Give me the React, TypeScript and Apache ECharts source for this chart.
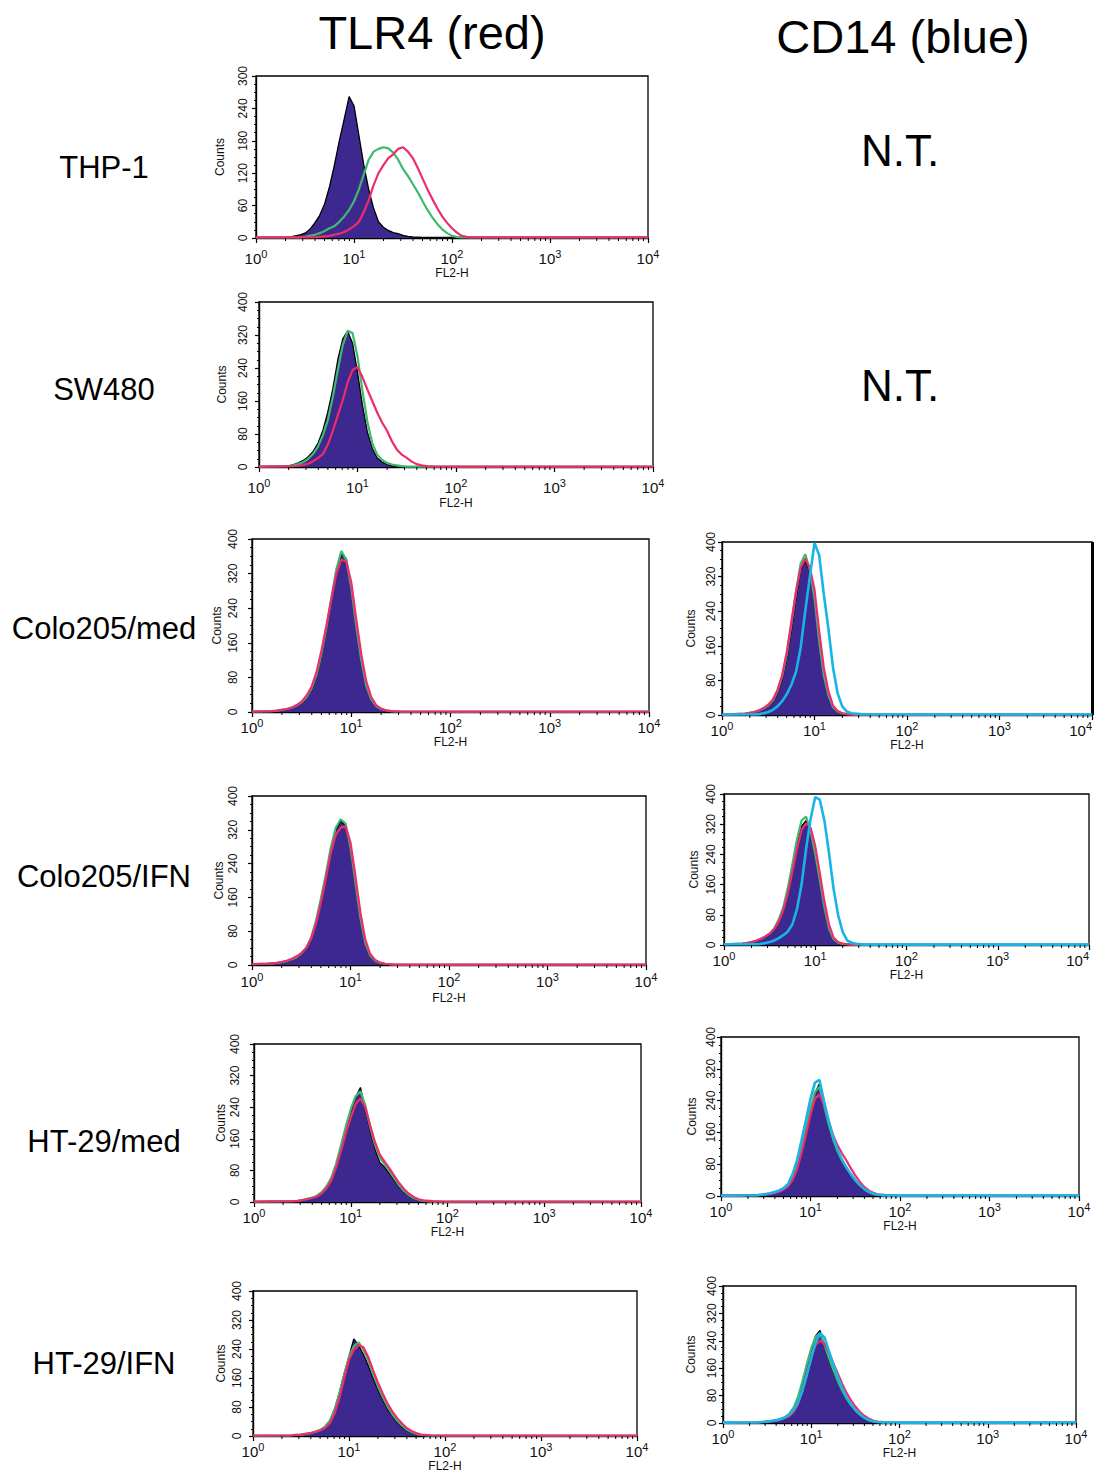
import React, { useEffect, useRef } from "react";
import * as echarts from "echarts";

// ---------- text ----------
const COLUMN_TITLES = ["TLR4 (red)", "CD14 (blue)"];
const ROW_LABELS = ["THP-1", "SW480", "Colo205/med", "Colo205/IFN", "HT-29/med", "HT-29/IFN"];
const NOT_TESTED = "N.T.";
const X_NAME = "FL2-H";
const Y_NAME = "Counts";

// ---------- axes ----------
const X_MIN = 1;
const X_MAX = 10000;
const X_MINOR_TICKS = [
  2, 3, 4, 5, 6, 7, 8, 9,
  20, 30, 40, 50, 60, 70, 80, 90,
  200, 300, 400, 500, 600, 700, 800, 900,
  2000, 3000, 4000, 5000, 6000, 7000, 8000, 9000,
];
const Y_MAX_THP1 = 300;
const Y_STEP_THP1 = 60;
const Y_MAX_OTHER = 400;
const Y_STEP_OTHER = 80;

// ---------- histogram data: [log10(FL2-H), counts] ----------
// THP-1 / TLR4
const THP1_ISO: number[][] = [[0,1],[0.3,1],[0.35,2],[0.4,4],[0.45,6],[0.5,9],[0.55,16],[0.6,28],[0.65,42],[0.7,63],[0.75,95],[0.8,135],[0.85,180],[0.9,220],[0.95,262],[1.0,245],[1.05,190],[1.1,135],[1.15,90],[1.2,55],[1.25,30],[1.3,20],[1.35,14],[1.4,10],[1.45,8],[1.5,5],[1.55,3],[1.6,2],[1.7,1],[4,1]];
const THP1_GREEN: number[][] = [[0,1],[0.45,1],[0.5,2],[0.55,4],[0.6,6],[0.65,9],[0.7,13],[0.75,18],[0.8,22],[0.85,30],[0.9,40],[0.95,52],[1.0,68],[1.05,90],[1.1,118],[1.15,145],[1.2,160],[1.25,165],[1.3,168],[1.35,166],[1.4,158],[1.45,145],[1.5,128],[1.55,115],[1.6,100],[1.65,85],[1.7,68],[1.75,52],[1.8,38],[1.85,26],[1.9,16],[1.95,9],[2.0,4],[2.05,2],[2.1,1],[4,1]];
const THP1_RED: number[][] = [[0,1],[0.6,1],[0.7,3],[0.75,4],[0.8,6],[0.85,8],[0.9,11],[0.95,16],[1.0,22],[1.05,30],[1.1,48],[1.15,70],[1.2,98],[1.25,120],[1.3,135],[1.35,148],[1.4,155],[1.45,165],[1.5,168],[1.55,160],[1.6,148],[1.65,130],[1.7,110],[1.75,90],[1.8,72],[1.85,55],[1.9,40],[1.95,28],[2.0,18],[2.05,10],[2.1,4],[2.15,2],[2.2,1],[4,1]];

// SW480 / TLR4
const SW480_ISO: number[][] = [[0,1],[0.25,2],[0.3,3],[0.35,6],[0.4,10],[0.45,16],[0.5,25],[0.55,38],[0.6,58],[0.65,90],[0.7,135],[0.75,190],[0.8,260],[0.85,310],[0.9,330],[0.95,300],[1.0,230],[1.05,150],[1.1,85],[1.15,45],[1.2,22],[1.25,12],[1.3,6],[1.35,3],[1.4,2],[1.5,1],[4,1]];
const SW480_GREEN: number[][] = [[0,1],[0.3,2],[0.35,4],[0.4,7],[0.45,12],[0.5,20],[0.55,32],[0.6,50],[0.65,78],[0.7,115],[0.75,170],[0.8,235],[0.85,295],[0.9,330],[0.95,325],[1.0,268],[1.05,185],[1.1,110],[1.15,58],[1.2,30],[1.25,17],[1.3,10],[1.35,6],[1.4,4],[1.45,2],[1.5,1],[4,1]];
const SW480_RED: number[][] = [[0,1],[0.35,2],[0.4,3],[0.45,5],[0.5,8],[0.55,14],[0.6,22],[0.65,32],[0.7,55],[0.75,88],[0.8,125],[0.85,162],[0.9,205],[0.95,235],[1.0,242],[1.05,218],[1.1,188],[1.15,160],[1.2,132],[1.25,108],[1.3,88],[1.35,62],[1.4,42],[1.45,30],[1.5,22],[1.55,13],[1.6,7],[1.65,4],[1.7,2],[1.8,1],[4,1]];

// Colo205/med / TLR4
const COLO_MED_T_ISO: number[][] = [[0,1],[0.2,2],[0.25,3],[0.3,4],[0.35,6],[0.4,9],[0.45,14],[0.5,20],[0.55,32],[0.6,50],[0.65,80],[0.7,130],[0.75,190],[0.8,260],[0.85,325],[0.9,365],[0.95,355],[1.0,290],[1.05,200],[1.1,125],[1.15,65],[1.2,30],[1.25,14],[1.3,7],[1.35,4],[1.4,2],[1.5,1],[4,1]];
const COLO_MED_T_GREEN: number[][] = [[0,1],[0.2,2],[0.25,3],[0.3,5],[0.35,7],[0.4,10],[0.45,15],[0.5,22],[0.55,34],[0.6,54],[0.65,85],[0.7,135],[0.75,195],[0.8,265],[0.85,330],[0.9,372],[0.95,352],[1.0,288],[1.05,200],[1.1,122],[1.15,62],[1.2,30],[1.25,14],[1.3,7],[1.35,4],[1.4,2],[1.5,1],[4,1]];
const COLO_MED_T_RED: number[][] = [[0,1],[0.2,2],[0.25,3],[0.3,5],[0.35,7],[0.4,10],[0.45,16],[0.5,24],[0.55,38],[0.6,58],[0.65,92],[0.7,142],[0.75,200],[0.8,262],[0.85,320],[0.9,352],[0.95,348],[1.0,300],[1.05,215],[1.1,135],[1.15,72],[1.2,35],[1.25,16],[1.3,8],[1.35,4],[1.4,2],[1.5,1],[4,1]];

// Colo205/med / CD14
const COLO_MED_C_ISO: number[][] = [[0,1],[0.25,3],[0.3,4],[0.35,6],[0.4,9],[0.45,14],[0.5,20],[0.55,30],[0.6,50],[0.65,80],[0.7,130],[0.75,195],[0.8,270],[0.85,335],[0.9,358],[0.95,330],[1.0,275],[1.05,175],[1.1,95],[1.15,48],[1.2,18],[1.25,8],[1.3,4],[1.35,2],[1.45,1],[4,1]];
const COLO_MED_C_GREEN: number[][] = [[0,1],[0.25,3],[0.3,5],[0.35,7],[0.4,10],[0.45,15],[0.5,22],[0.55,33],[0.6,55],[0.65,88],[0.7,140],[0.75,210],[0.8,285],[0.85,350],[0.9,372],[0.95,335],[1.0,270],[1.05,172],[1.1,92],[1.15,46],[1.2,18],[1.25,8],[1.3,4],[1.35,2],[1.45,1],[4,1]];
const COLO_MED_C_RED: number[][] = [[0,1],[0.25,3],[0.3,5],[0.35,7],[0.4,11],[0.45,16],[0.5,24],[0.55,36],[0.6,58],[0.65,92],[0.7,145],[0.75,215],[0.8,285],[0.85,340],[0.9,362],[0.95,340],[1.0,290],[1.05,195],[1.1,110],[1.15,55],[1.2,22],[1.25,9],[1.3,4],[1.35,2],[1.45,1],[4,1]];
const COLO_MED_C_BLUE: number[][] = [[0,1],[0.35,1],[0.4,2],[0.45,4],[0.5,7],[0.55,12],[0.6,20],[0.65,32],[0.7,48],[0.75,70],[0.8,100],[0.85,155],[0.9,240],[0.95,320],[1.0,398],[1.05,370],[1.1,280],[1.15,200],[1.2,110],[1.25,50],[1.3,20],[1.35,8],[1.4,4],[1.5,2],[1.6,1],[4,1]];

// Colo205/IFN / TLR4
const COLO_IFN_T_ISO: number[][] = [[0,2],[0.1,3],[0.15,3],[0.2,4],[0.25,5],[0.3,7],[0.35,9],[0.4,12],[0.45,17],[0.5,25],[0.55,38],[0.6,62],[0.65,100],[0.7,150],[0.75,205],[0.8,270],[0.85,318],[0.9,340],[0.95,330],[1.0,275],[1.05,190],[1.1,110],[1.15,50],[1.2,20],[1.25,9],[1.3,4],[1.35,2],[1.45,1],[4,1]];
const COLO_IFN_T_GREEN: number[][] = [[0,2],[0.1,3],[0.15,3],[0.2,4],[0.25,5],[0.3,7],[0.35,9],[0.4,13],[0.45,18],[0.5,27],[0.55,40],[0.6,65],[0.65,105],[0.7,158],[0.75,215],[0.8,278],[0.85,325],[0.9,345],[0.95,335],[1.0,278],[1.05,195],[1.1,112],[1.15,52],[1.2,22],[1.25,10],[1.3,5],[1.35,3],[1.45,1],[4,1]];
const COLO_IFN_T_RED: number[][] = [[0,2],[0.1,3],[0.15,3],[0.2,4],[0.25,5],[0.3,7],[0.35,10],[0.4,14],[0.45,20],[0.5,28],[0.55,40],[0.6,62],[0.65,98],[0.7,148],[0.75,205],[0.8,265],[0.85,308],[0.9,325],[0.95,328],[1.0,290],[1.05,210],[1.1,125],[1.15,60],[1.2,26],[1.25,12],[1.3,6],[1.35,3],[1.45,1],[4,1]];

// Colo205/IFN / CD14
const COLO_IFN_C_ISO: number[][] = [[0,2],[0.2,4],[0.25,5],[0.3,7],[0.35,10],[0.4,15],[0.45,20],[0.5,28],[0.55,40],[0.6,62],[0.65,90],[0.7,140],[0.75,200],[0.8,265],[0.85,315],[0.9,330],[0.95,295],[1.0,235],[1.05,170],[1.1,100],[1.15,45],[1.2,15],[1.25,6],[1.3,3],[1.4,1],[4,1]];
const COLO_IFN_C_GREEN: number[][] = [[0,2],[0.2,4],[0.25,5],[0.3,8],[0.35,11],[0.4,16],[0.45,22],[0.5,30],[0.55,44],[0.6,68],[0.65,100],[0.7,152],[0.75,215],[0.8,280],[0.85,330],[0.9,340],[0.95,300],[1.0,240],[1.05,172],[1.1,100],[1.15,45],[1.2,16],[1.25,6],[1.3,3],[1.4,1],[4,1]];
const COLO_IFN_C_RED: number[][] = [[0,2],[0.2,4],[0.25,5],[0.3,8],[0.35,11],[0.4,16],[0.45,22],[0.5,30],[0.55,42],[0.6,62],[0.65,92],[0.7,138],[0.75,195],[0.8,255],[0.85,305],[0.9,322],[0.95,310],[1.0,262],[1.05,190],[1.1,115],[1.15,55],[1.2,20],[1.25,8],[1.3,4],[1.4,1],[4,1]];
const COLO_IFN_C_BLUE: number[][] = [[0,2],[0.35,2],[0.4,3],[0.45,5],[0.5,8],[0.55,12],[0.6,18],[0.65,26],[0.7,36],[0.75,55],[0.8,95],[0.85,160],[0.9,255],[0.95,335],[1.0,392],[1.05,385],[1.1,330],[1.15,245],[1.2,150],[1.25,80],[1.3,35],[1.35,12],[1.4,6],[1.45,3],[1.55,1],[4,1]];

// HT-29/med / TLR4
const HT_MED_T_ISO: number[][] = [[0,1],[0.4,2],[0.45,3],[0.5,5],[0.55,7],[0.6,10],[0.65,14],[0.7,22],[0.75,35],[0.8,55],[0.85,90],[0.9,135],[0.95,180],[1.0,225],[1.05,265],[1.1,290],[1.15,235],[1.2,180],[1.25,135],[1.3,100],[1.35,88],[1.4,72],[1.45,55],[1.5,38],[1.55,25],[1.6,15],[1.65,9],[1.7,5],[1.75,3],[1.85,1],[4,1]];
const HT_MED_T_GREEN: number[][] = [[0,1],[0.4,2],[0.45,3],[0.5,5],[0.55,8],[0.6,11],[0.65,16],[0.7,25],[0.75,40],[0.8,62],[0.85,98],[0.9,145],[0.95,192],[1.0,235],[1.05,268],[1.1,280],[1.15,245],[1.2,190],[1.25,145],[1.3,112],[1.35,95],[1.4,78],[1.45,60],[1.5,42],[1.55,28],[1.6,17],[1.65,10],[1.7,6],[1.75,3],[1.85,1],[4,1]];
const HT_MED_T_RED: number[][] = [[0,1],[0.4,2],[0.45,3],[0.5,5],[0.55,7],[0.6,10],[0.65,14],[0.7,22],[0.75,35],[0.8,55],[0.85,88],[0.9,130],[0.95,175],[1.0,215],[1.05,248],[1.1,262],[1.15,240],[1.2,195],[1.25,152],[1.3,120],[1.35,102],[1.4,85],[1.45,66],[1.5,48],[1.55,33],[1.6,21],[1.65,13],[1.7,7],[1.75,4],[1.85,2],[1.95,1],[4,1]];

// HT-29/med / CD14
const HT_MED_C_ISO: number[][] = [[0,1],[0.4,2],[0.45,3],[0.5,4],[0.55,6],[0.6,8],[0.65,12],[0.7,17],[0.75,26],[0.8,45],[0.85,75],[0.9,118],[0.95,165],[1.0,215],[1.05,260],[1.1,282],[1.15,225],[1.2,178],[1.25,140],[1.3,110],[1.35,88],[1.4,70],[1.45,53],[1.5,38],[1.55,26],[1.6,16],[1.65,10],[1.7,5],[1.75,3],[1.85,1],[4,1]];
const HT_MED_C_GREEN: number[][] = [[0,1],[0.4,2],[0.45,3],[0.5,4],[0.55,6],[0.6,9],[0.65,13],[0.7,18],[0.75,28],[0.8,47],[0.85,78],[0.9,122],[0.95,170],[1.0,220],[1.05,262],[1.1,275],[1.15,228],[1.2,182],[1.25,144],[1.3,113],[1.35,90],[1.4,72],[1.45,55],[1.5,40],[1.55,27],[1.6,17],[1.65,10],[1.7,5],[1.75,3],[1.85,1],[4,1]];
const HT_MED_C_RED: number[][] = [[0,1],[0.4,2],[0.45,3],[0.5,4],[0.55,6],[0.6,8],[0.65,11],[0.7,16],[0.75,24],[0.8,40],[0.85,68],[0.9,108],[0.95,155],[1.0,205],[1.05,245],[1.1,255],[1.15,230],[1.2,190],[1.25,155],[1.3,128],[1.35,108],[1.4,90],[1.45,70],[1.5,52],[1.55,36],[1.6,23],[1.65,14],[1.7,8],[1.75,4],[1.85,2],[1.95,1],[4,1]];
const HT_MED_C_BLUE: number[][] = [[0,1],[0.4,2],[0.45,3],[0.5,5],[0.55,7],[0.6,10],[0.65,14],[0.7,20],[0.75,30],[0.8,55],[0.85,90],[0.9,140],[0.95,192],[1.0,245],[1.05,285],[1.1,292],[1.15,240],[1.2,192],[1.25,150],[1.3,118],[1.35,92],[1.4,72],[1.45,55],[1.5,40],[1.55,28],[1.6,18],[1.65,11],[1.7,6],[1.75,3],[1.85,1],[4,1]];

// HT-29/IFN / TLR4
const HT_IFN_T_ISO: number[][] = [[0,1],[0.4,2],[0.45,3],[0.5,4],[0.55,6],[0.6,8],[0.65,11],[0.7,16],[0.75,25],[0.8,42],[0.85,75],[0.9,120],[0.95,172],[1.0,220],[1.05,268],[1.1,250],[1.15,225],[1.2,195],[1.25,160],[1.3,128],[1.35,100],[1.4,75],[1.45,55],[1.5,38],[1.55,25],[1.6,15],[1.65,9],[1.7,5],[1.75,3],[1.85,1],[4,1]];
const HT_IFN_T_GREEN: number[][] = [[0,1],[0.4,2],[0.45,3],[0.5,4],[0.55,6],[0.6,8],[0.65,12],[0.7,17],[0.75,26],[0.8,42],[0.85,72],[0.9,118],[0.95,170],[1.0,218],[1.05,248],[1.1,258],[1.15,238],[1.2,208],[1.25,172],[1.3,138],[1.35,108],[1.4,82],[1.45,60],[1.5,43],[1.55,29],[1.6,18],[1.65,11],[1.7,6],[1.75,3],[1.85,1],[4,1]];
const HT_IFN_T_RED: number[][] = [[0,1],[0.4,2],[0.45,3],[0.5,4],[0.55,6],[0.6,8],[0.65,11],[0.7,15],[0.75,22],[0.8,35],[0.85,62],[0.9,105],[0.95,160],[1.0,210],[1.05,238],[1.1,250],[1.15,245],[1.2,218],[1.25,182],[1.3,148],[1.35,118],[1.4,90],[1.45,68],[1.5,50],[1.55,35],[1.6,22],[1.65,14],[1.7,8],[1.75,4],[1.85,2],[1.95,1],[4,1]];

// HT-29/IFN / CD14
const HT_IFN_C_ISO: number[][] = [[0,1],[0.4,2],[0.45,3],[0.5,4],[0.55,6],[0.6,8],[0.65,11],[0.7,16],[0.75,25],[0.8,42],[0.85,72],[0.9,118],[0.95,168],[1.0,215],[1.05,255],[1.1,270],[1.15,225],[1.2,185],[1.25,150],[1.3,118],[1.35,92],[1.4,70],[1.45,52],[1.5,37],[1.55,25],[1.6,15],[1.65,9],[1.7,5],[1.75,3],[1.85,1],[4,1]];
const HT_IFN_C_GREEN: number[][] = [[0,1],[0.4,2],[0.45,3],[0.5,4],[0.55,6],[0.6,8],[0.65,12],[0.7,17],[0.75,27],[0.8,45],[0.85,76],[0.9,122],[0.95,172],[1.0,218],[1.05,252],[1.1,262],[1.15,228],[1.2,190],[1.25,155],[1.3,122],[1.35,95],[1.4,72],[1.45,53],[1.5,38],[1.55,26],[1.6,16],[1.65,9],[1.7,5],[1.75,3],[1.85,1],[4,1]];
const HT_IFN_C_RED: number[][] = [[0,1],[0.4,2],[0.45,3],[0.5,4],[0.55,5],[0.6,7],[0.65,10],[0.7,14],[0.75,20],[0.8,32],[0.85,55],[0.9,95],[0.95,145],[1.0,195],[1.05,228],[1.1,240],[1.15,232],[1.2,205],[1.25,175],[1.3,145],[1.35,115],[1.4,88],[1.45,66],[1.5,48],[1.55,33],[1.6,21],[1.65,13],[1.7,7],[1.75,4],[1.85,2],[1.95,1],[4,1]];
const HT_IFN_C_BLUE: number[][] = [[0,1],[0.4,2],[0.45,3],[0.5,4],[0.55,6],[0.6,8],[0.65,11],[0.7,16],[0.75,24],[0.8,38],[0.85,60],[0.9,95],[0.95,140],[1.0,190],[1.05,235],[1.1,262],[1.15,250],[1.2,210],[1.25,172],[1.3,135],[1.35,102],[1.4,75],[1.45,54],[1.5,38],[1.55,25],[1.6,16],[1.65,9],[1.7,5],[1.75,3],[1.85,1],[4,1]];

// ---------- panel composition ----------
type Curves = { iso: number[][]; green: number[][]; red: number[][]; blue?: number[][] };
const PANEL_DATA: { yMax: number; yStep: number; curves: Curves }[] = [
  { yMax: Y_MAX_THP1, yStep: Y_STEP_THP1, curves: { iso: THP1_ISO, green: THP1_GREEN, red: THP1_RED } },
  { yMax: Y_MAX_OTHER, yStep: Y_STEP_OTHER, curves: { iso: SW480_ISO, green: SW480_GREEN, red: SW480_RED } },
  { yMax: Y_MAX_OTHER, yStep: Y_STEP_OTHER, curves: { iso: COLO_MED_T_ISO, green: COLO_MED_T_GREEN, red: COLO_MED_T_RED } },
  { yMax: Y_MAX_OTHER, yStep: Y_STEP_OTHER, curves: { iso: COLO_MED_C_ISO, green: COLO_MED_C_GREEN, red: COLO_MED_C_RED, blue: COLO_MED_C_BLUE } },
  { yMax: Y_MAX_OTHER, yStep: Y_STEP_OTHER, curves: { iso: COLO_IFN_T_ISO, green: COLO_IFN_T_GREEN, red: COLO_IFN_T_RED } },
  { yMax: Y_MAX_OTHER, yStep: Y_STEP_OTHER, curves: { iso: COLO_IFN_C_ISO, green: COLO_IFN_C_GREEN, red: COLO_IFN_C_RED, blue: COLO_IFN_C_BLUE } },
  { yMax: Y_MAX_OTHER, yStep: Y_STEP_OTHER, curves: { iso: HT_MED_T_ISO, green: HT_MED_T_GREEN, red: HT_MED_T_RED } },
  { yMax: Y_MAX_OTHER, yStep: Y_STEP_OTHER, curves: { iso: HT_MED_C_ISO, green: HT_MED_C_GREEN, red: HT_MED_C_RED, blue: HT_MED_C_BLUE } },
  { yMax: Y_MAX_OTHER, yStep: Y_STEP_OTHER, curves: { iso: HT_IFN_T_ISO, green: HT_IFN_T_GREEN, red: HT_IFN_T_RED } },
  { yMax: Y_MAX_OTHER, yStep: Y_STEP_OTHER, curves: { iso: HT_IFN_C_ISO, green: HT_IFN_C_GREEN, red: HT_IFN_C_RED, blue: HT_IFN_C_BLUE } },
];

// ---------- layout (pixels) ----------
const PANEL_BOXES = [
  { left: 256, top: 76, right: 648, bottom: 238, yLab: 7, yName: 30, xLab: 10, xName: 29, alignEnd: false },
  { left: 259, top: 302, right: 653, bottom: 467, yLab: 10, yName: 31, xLab: 10, xName: 30, alignEnd: false },
  { left: 252, top: 539, right: 649, bottom: 712, yLab: 13, yName: 29, xLab: 5, xName: 21, alignEnd: false },
  { left: 722, top: 542, right: 1092, bottom: 715, yLab: 5, yName: 25, xLab: 5, xName: 23, alignEnd: true },
  { left: 252, top: 796, right: 646, bottom: 965, yLab: 13, yName: 27, xLab: 6, xName: 27, alignEnd: false },
  { left: 724, top: 794, right: 1089, bottom: 945, yLab: 7, yName: 24, xLab: 5, xName: 23, alignEnd: true },
  { left: 254, top: 1044, right: 641, bottom: 1202, yLab: 13, yName: 27, xLab: 5, xName: 23, alignEnd: false },
  { left: 721, top: 1037, right: 1079, bottom: 1196, yLab: 4, yName: 23, xLab: 5, xName: 22, alignEnd: false },
  { left: 253, top: 1291, right: 637, bottom: 1436, yLab: 10, yName: 26, xLab: 5, xName: 22, alignEnd: false },
  { left: 723, top: 1286, right: 1076, bottom: 1423, yLab: 5, yName: 26, xLab: 5, xName: 24, alignEnd: false },
];
const ROW_LABEL_Y = [167, 389, 628, 876, 1141, 1363];
const NT_Y = [150, 385];

const FONT = "'Liberation Sans', Arial, Helvetica, sans-serif";
const INK = "#111";
const COLORS = { fill: "#3d2890", outline: "#000", green: "#3dba6e", red: "#ec2d6a", blue: "#18b4e8" };

function toXY(d: number[][]) {
  return d.map(([e, c]) => [Math.pow(10, e), c]);
}

function buildOption() {
  const grid: any[] = [];
  const xAxis: any[] = [];
  const yAxis: any[] = [];
  const series: any[] = [];

  PANEL_DATA.forEach((p, i) => {
    const b = PANEL_BOXES[i];
    grid.push({
      left: b.left, top: b.top, width: b.right - b.left, height: b.bottom - b.top,
      containLabel: false, outerBoundsMode: "none",
      show: true, borderColor: "#000", borderWidth: 1.3, backgroundColor: "transparent",
    });
    xAxis.push({
      type: "log", gridIndex: i, min: X_MIN, max: X_MAX, logBase: 10,
      axisLine: { show: true, lineStyle: { color: "#000", width: 1.4 } },
      axisTick: { show: true, length: 5, lineStyle: { color: "#000", width: 1.2 } },
      splitLine: { show: false },
      axisLabel: {
        margin: b.xLab,
        color: INK,
        alignMaxLabel: b.alignEnd ? "right" : undefined,
        formatter: (v: number) => `{b|10}{s|${Math.round(Math.log10(v))}}`,
        rich: {
          b: { fontSize: 15, fontFamily: FONT, color: INK },
          s: { fontSize: 11, fontFamily: FONT, color: INK, padding: [0, 0, 10, 0] },
        },
      },
      name: X_NAME, nameLocation: "middle", nameGap: b.xName,
      nameTextStyle: { fontSize: 12, fontFamily: FONT, color: INK },
    });
    yAxis.push({
      type: "value", gridIndex: i, min: 0, max: p.yMax, interval: p.yStep,
      axisLine: { show: true, lineStyle: { color: "#000", width: 1.4 } },
      axisTick: { show: true, length: 4, lineStyle: { color: "#000", width: 1.2 } },
      minorTick: { show: true, splitNumber: 4, length: 2, lineStyle: { color: "#000" } },
      splitLine: { show: false },
      axisLabel: { rotate: 90, margin: b.yLab, fontSize: 12, fontFamily: FONT, color: INK },
      name: Y_NAME, nameLocation: "middle", nameRotate: 90, nameGap: b.yName,
      nameTextStyle: { fontSize: 12, fontFamily: FONT, color: INK },
    });

    const base = { xAxisIndex: i, yAxisIndex: i, type: "line", showSymbol: false, symbol: "none", silent: true };
    series.push({
      ...base, name: `iso${i}`, data: toXY(p.curves.iso), z: 2,
      lineStyle: { color: COLORS.outline, width: 1.3 },
      areaStyle: { color: COLORS.fill, opacity: 1 },
    });
    series.push({ ...base, name: `green${i}`, data: toXY(p.curves.green), z: 3, lineStyle: { color: COLORS.green, width: 2.2 } });
    series.push({ ...base, name: `red${i}`, data: toXY(p.curves.red), z: 4, lineStyle: { color: COLORS.red, width: 2.2 } });
    if (p.curves.blue) {
      series.push({ ...base, name: `blue${i}`, data: toXY(p.curves.blue), z: 5, lineStyle: { color: COLORS.blue, width: 2.6 } });
    }
    // log-spaced minor ticks on the FL2-H axis
    series.push({
      type: "custom", xAxisIndex: i, yAxisIndex: i, silent: true, z: 6, clip: false,
      data: X_MINOR_TICKS.map((v) => [v, 0]),
      renderItem: (_params: any, api: any) => {
        const pt = api.coord([api.value(0), 0]);
        return {
          type: "line",
          shape: { x1: pt[0], y1: pt[1], x2: pt[0], y2: pt[1] + 3 },
          style: { stroke: "#000", lineWidth: 1 },
        };
      },
    });
  });

  const graphic: any[] = [];
  graphic.push({ type: "text", x: 432, y: 32, style: { text: COLUMN_TITLES[0], font: `47px ${FONT}`, fill: "#000", textAlign: "center", textVerticalAlign: "middle" } });
  graphic.push({ type: "text", x: 903, y: 36, style: { text: COLUMN_TITLES[1], font: `47px ${FONT}`, fill: "#000", textAlign: "center", textVerticalAlign: "middle" } });
  ROW_LABELS.forEach((t, i) => {
    graphic.push({ type: "text", x: 104, y: ROW_LABEL_Y[i], style: { text: t, font: `31px ${FONT}`, fill: "#000", textAlign: "center", textVerticalAlign: "middle" } });
  });
  NT_Y.forEach((y) => {
    graphic.push({ type: "text", x: 900, y, style: { text: NOT_TESTED, font: `44px ${FONT}`, fill: "#000", textAlign: "center", textVerticalAlign: "middle" } });
  });
  // heavy right frame edge of the Colo205/med CD14 panel
  const b4 = PANEL_BOXES[3];
  graphic.push({ type: "rect", shape: { x: b4.right - 1, y: b4.top, width: 3, height: b4.bottom - b4.top }, style: { fill: "#000" } });

  return {
    animation: false,
    backgroundColor: "#fff",
    grid, xAxis, yAxis, series, graphic,
  };
}

export default function App() {
  const ref = useRef<HTMLDivElement>(null);
  useEffect(() => {
    if (!ref.current) return;
    const chart = echarts.init(ref.current, undefined, { renderer: "svg" });
    chart.setOption(buildOption() as any);
    return () => chart.dispose();
  }, []);
  return <div ref={ref} style={{ position: "absolute", left: 0, top: 0, width: 1101, height: 1476 }} />;
}
